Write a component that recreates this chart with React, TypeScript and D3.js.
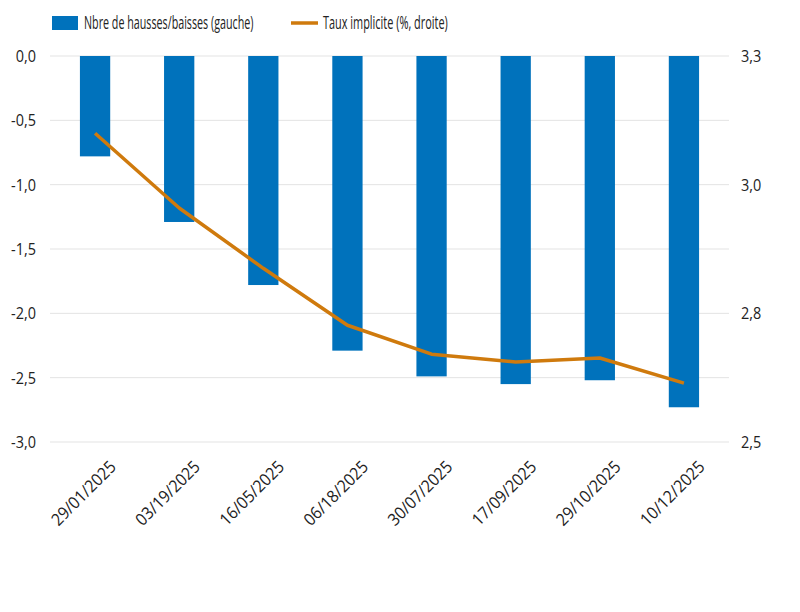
import { useEffect, useRef } from 'react';
import * as d3 from 'd3';

const dates = [
  '29/01/2025', '03/19/2025', '16/05/2025', '06/18/2025',
  '30/07/2025', '17/09/2025', '29/10/2025', '10/12/2025',
];
const hikesCuts = [-0.78, -1.29, -1.78, -2.29, -2.49, -2.55, -2.52, -2.73];
const impliedRate = [3.14, 2.985, 2.86, 2.742, 2.682, 2.666, 2.674, 2.622];
const leftTicks = [0, -0.5, -1, -1.5, -2, -2.5, -3];
const rightTicks = [3.3, 3.0333, 2.7667, 2.5];
const legendLabels = ['Nbre de hausses/baisses (gauche)', 'Taux implicite (%, droite)'];

const FONT = '"Open Sans", sans-serif';
const BAR = '#0072bc';
const LINE = '#cf7a0d';
const TEXT = '#222';

export default function App() {
  const svgRef = useRef<SVGSVGElement>(null);

  useEffect(() => {
    if (!svgRef.current) return;
    const svg = d3.select(svgRef.current);
    svg.selectAll('*').remove();

    const margin = { left: 53, right: 74, top: 56, bottom: 170 };
    const width = 800;
    const height = 612;
    const innerW = width - margin.left - margin.right;
    const innerH = height - margin.top - margin.bottom;

    const x = d3.scaleBand().domain(dates).range([0, innerW])
      .paddingInner(0.64).paddingOuter(0.32);
    const yL = d3.scaleLinear().domain([-3, 0]).range([innerH, 0]);
    const yR = d3.scaleLinear().domain([2.5, 3.3]).range([innerH, 0]);

    const g = svg.append('g').attr('transform', `translate(${margin.left},${margin.top})`);

    // grid
    g.selectAll('.grid')
      .data(leftTicks)
      .enter().append('line')
      .attr('x1', -3).attr('x2', innerW + 3)
      .attr('y1', d => yL(d)).attr('y2', d => yL(d))
      .attr('stroke', '#e3e3e3').attr('stroke-width', 1);

    // bars
    g.selectAll('.bar')
      .data(hikesCuts)
      .enter().append('rect')
      .attr('x', (_, i) => x(dates[i]) || 0)
      .attr('width', x.bandwidth())
      .attr('y', yL(0))
      .attr('height', d => yL(d) - yL(0))
      .attr('fill', BAR);

    // line
    const line = d3.line<number>()
      .x((_, i) => (x(dates[i]) || 0) + x.bandwidth() / 2)
      .y(d => yR(d));
    g.append('path')
      .datum(impliedRate)
      .attr('d', line)
      .attr('fill', 'none')
      .attr('stroke', LINE)
      .attr('stroke-width', 3.5)
      .attr('stroke-linejoin', 'round');

    const fmt = (v: number) => d3.format('.1f')(v).replace('.', ',').replace('−', '-');

    // left axis labels
    g.selectAll('.yl')
      .data(leftTicks)
      .enter().append('text')
      .attr('transform', d => `translate(-17,${yL(d)}) scale(0.85,1)`)
      .attr('dy', '0.35em')
      .attr('text-anchor', 'end')
      .attr('font-family', FONT).attr('font-size', 17).attr('fill', TEXT)
      .text(d => fmt(d));

    // right axis labels
    g.selectAll('.yr')
      .data(rightTicks)
      .enter().append('text')
      .attr('transform', d => `translate(${innerW + 15},${yR(d)}) scale(0.85,1)`)
      .attr('dy', '0.35em')
      .attr('text-anchor', 'start')
      .attr('font-family', FONT).attr('font-size', 17).attr('fill', TEXT)
      .text(d => fmt(d));

    // x labels
    g.selectAll('.xl')
      .data(dates)
      .enter().append('text')
      .attr('transform', d => `translate(${(x(d) || 0) + x.bandwidth() / 2 + 22},${innerH + 26}) rotate(-45) scale(0.92,1)`)
      .attr('text-anchor', 'end')
      .attr('font-family', FONT).attr('font-size', 17).attr('fill', TEXT)
      .text(d => d);

    // legend
    const lg = svg.append('g');
    lg.append('rect').attr('x', 52).attr('y', 16).attr('width', 26).attr('height', 14).attr('fill', BAR);
    lg.append('text').attr('transform', 'translate(84,29) scale(0.565,1)')
      .attr('font-family', FONT).attr('font-size', 19).attr('fill', TEXT)
      .text(legendLabels[0]);
    lg.append('line').attr('x1', 291).attr('x2', 318).attr('y1', 23).attr('y2', 23)
      .attr('stroke', LINE).attr('stroke-width', 3.5);
    lg.append('text').attr('transform', 'translate(323,29) scale(0.575,1)')
      .attr('font-family', FONT).attr('font-size', 19).attr('fill', TEXT)
      .text(legendLabels[1]);
  }, []);

  return (
    <svg
      ref={svgRef}
      width={800}
      height={612}
      style={{ position: 'absolute', left: 0, top: 0, background: '#fff' }}
    />
  );
}
